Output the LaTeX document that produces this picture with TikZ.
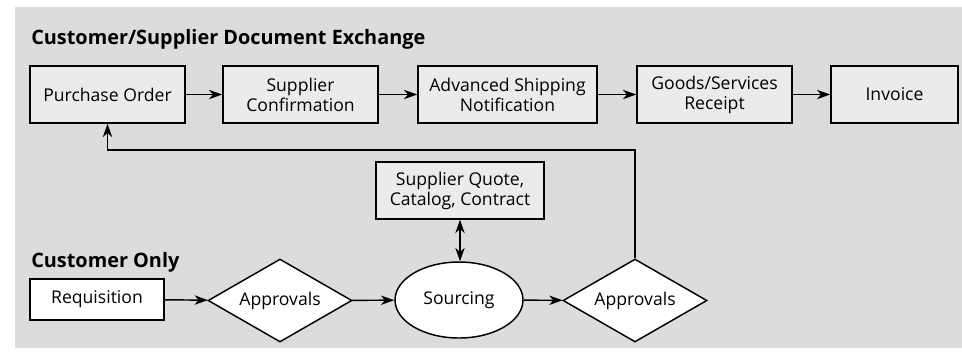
\documentclass[tikz,border=0pt]{standalone}
\usepackage{fontspec}
\setmainfont{Open Sans}
\usetikzlibrary{shapes.geometric,arrows.meta}
\definecolor{panel}{HTML}{DCDCDC}
\definecolor{docfill}{HTML}{EBEBEB}
\tikzset{
  doc/.style={draw=black, line width=1.1pt, fill=docfill, align=center,
    minimum height=57*0.75pt, inner sep=0pt, font=\fontsize{13.2}{15}\selectfont},
  cust/.style={draw=black, line width=1.1pt, fill=white, align=center,
    inner sep=0pt, font=\fontsize{13.2}{15}\selectfont},
  flow/.style={line width=1.1pt, -{Stealth[length=10pt,width=7pt,inset=3pt]}},
  bothflow/.style={line width=1.1pt, {Stealth[length=10pt,width=7pt,inset=3pt]}-{Stealth[length=10pt,width=7pt,inset=3pt]}},
  heading/.style={anchor=base west, inner sep=0pt, font=\fontsize{14.9}{17}\selectfont\bfseries}
}
\begin{document}
\begin{tikzpicture}[x=0.75pt,y=-0.75pt]
  \useasboundingbox (0,0) rectangle (962,351);
  \fill[panel] (15,7) rectangle (962,348);

  \node[heading] (title) at (31,44) {Customer/Supplier Document Exchange};
  \node[heading] (custonly) at (31,267) {Customer Only};

  % document exchange chain
  \node[doc, minimum width=155*0.75pt] (po)   at (107.5,94.5) {Purchase Order};
  \node[doc, minimum width=155*0.75pt] (conf) at (300.5,94.5) {Supplier\\Confirmation};
  \node[doc, minimum width=179*0.75pt] (asn)  at (507.5,94.5) {Advanced Shipping\\Notification};
  \node[doc, minimum width=155*0.75pt] (gr)   at (714.5,94.5) {Goods/Services\\Receipt};
  \node[doc, minimum width=127*0.75pt] (inv)  at (894.5,94.5) {Invoice};

  % customer-side process
  \node[doc, minimum width=168*0.75pt] (quote) at (460,190.5) {Supplier Quote,\\Catalog, Contract};
  \node[cust, rectangle, minimum width=134*0.75pt, minimum height=41*0.75pt] (req) at (97,299.5) {Requisition};
  \node[cust, diamond, aspect=1.73, minimum width=144*0.75pt, minimum height=83*0.75pt] (appr1) at (280,300.5) {Approvals};
  \node[cust, ellipse, minimum width=128*0.75pt, minimum height=76*0.75pt] (src) at (459,300) {Sourcing};
  \node[cust, diamond, aspect=1.73, minimum width=144*0.75pt, minimum height=83*0.75pt] (appr2) at (635,300.5) {Approvals};

  \coordinate (back) at (107.5,150);

  \draw[flow] (po) -- (conf);
  \draw[flow] (conf) -- (asn);
  \draw[flow] (asn) -- (gr);
  \draw[flow] (gr) -- (inv);

  \draw[flow] (req) -- (appr1);
  \draw[flow] (appr1) -- (src);
  \draw[flow] (src) -- (appr2);
  \draw[bothflow] (quote.south) -- (quote.south |- src.north);
  \draw[flow] (appr2.north) |- (back) -- (po.south);
\end{tikzpicture}
\end{document}
